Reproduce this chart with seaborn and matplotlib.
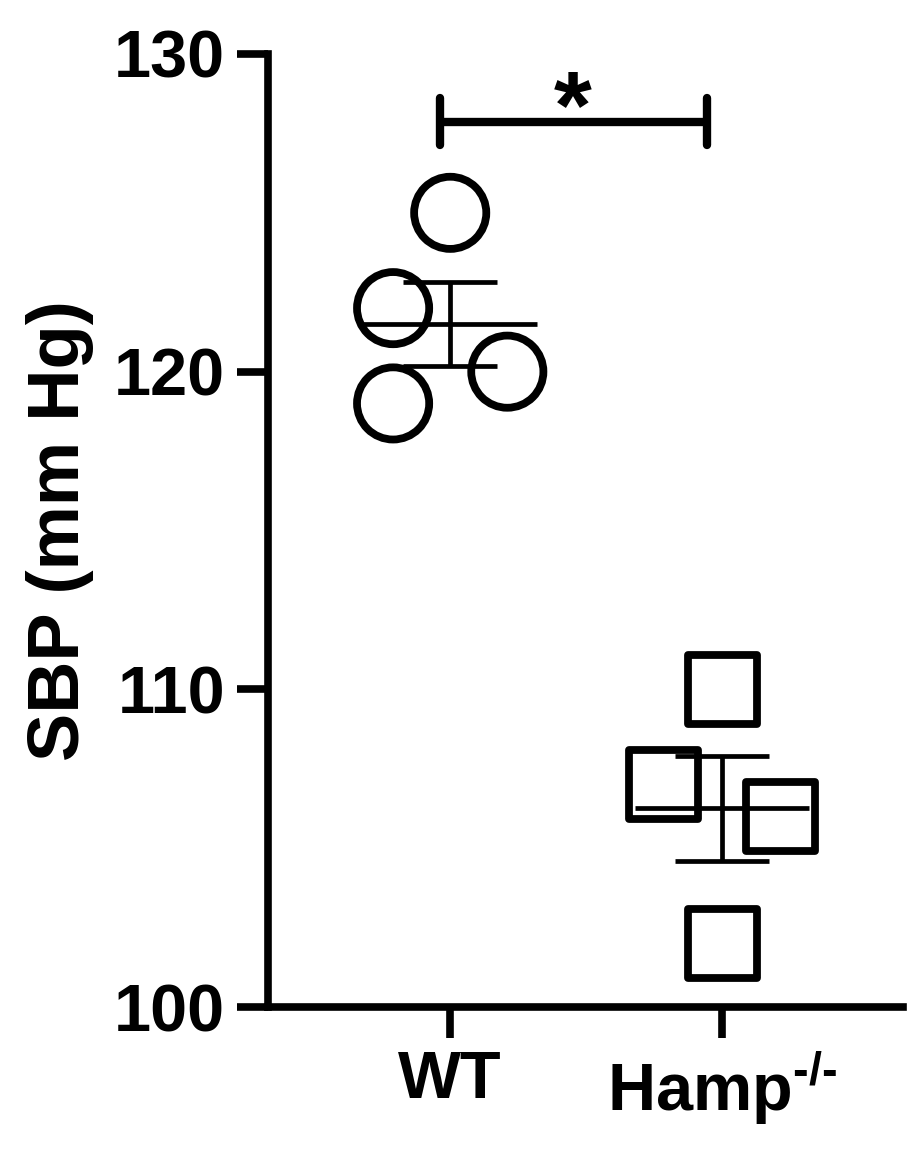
import numpy as np
import pandas as pd
import matplotlib
matplotlib.use("Agg")
import matplotlib.pyplot as plt
import seaborn as sns

# ---- data ----
groups = ["WT", "Hamp"]
tick_labels = ["WT", r"Hamp$^{\text{-/-}}$"]
wt_sbp = [125, 122, 120, 119]
hamp_sbp = [110, 107, 106, 102]
y_ticks = [100, 110, 120, 130]
sig_label = "*"

# ---- layout constants (horizontal spread of points within a column) ----
JIT_WT = [0.0, -0.21, 0.21, -0.21]
JIT_HAMP = [0.0, -0.215, 0.215, 0.0]

sns.set_theme(style="ticks")
plt.rcParams["font.family"] = ["Liberation Sans", "DejaVu Sans"]
plt.rcParams["font.weight"] = "bold"
plt.rcParams["mathtext.fontset"] = "custom"
plt.rcParams["mathtext.bf"] = "Liberation Sans:bold"
plt.rcParams["mathtext.rm"] = "Liberation Sans:bold"
for k in ["text.color", "axes.labelcolor", "xtick.color", "ytick.color", "axes.edgecolor"]:
    plt.rcParams[k] = "black"

W, H = 919, 1170
fig = plt.figure(figsize=(W / 100, H / 100), dpi=100)
ax = fig.add_axes([268 / W, 1 - 1007 / H, 635 / W, 953 / H])

df = pd.DataFrame({
    "group": ["WT"] * len(wt_sbp) + ["Hamp"] * len(hamp_sbp),
    "SBP": wt_sbp + hamp_sbp,
})
df["xpos"] = [0 + j for j in JIT_WT] + [1 + j for j in JIT_HAMP]

marker_map = {"WT": "o", "Hamp": "s"}
size_map = {"WT": 2700, "Hamp": 2450}
for g in groups:
    sub = df[df["group"] == g]
    sns.scatterplot(data=sub, x="xpos", y="SBP", marker=marker_map[g], s=size_map[g],
                    facecolor="none", edgecolor="black", linewidth=5.6, ax=ax, zorder=3,
                    legend=False, clip_on=False)

# mean +/- SEM
for i, g in enumerate(groups):
    vals = np.array(df.loc[df["group"] == g, "SBP"], dtype=float)
    m = vals.mean()
    sem = vals.std(ddof=1) / np.sqrt(len(vals))
    ax.hlines(m, i - 0.32, i + 0.32, color="black", lw=3.4, zorder=4)
    ax.errorbar(i, m, yerr=sem, fmt="none", ecolor="black", elinewidth=3.4,
                capsize=0, zorder=4)
    ax.hlines([m - sem, m + sem], i - 0.172, i + 0.172, color="black", lw=3.4, zorder=4)

# significance bar
x0, x1, yb = -0.037, 0.945, 127.86
ax.plot([x0, x1], [yb, yb], color="black", lw=6, clip_on=False, solid_capstyle="butt")
ax.plot([x0, x0], [127.12, 128.6], color="black", lw=6, clip_on=False, solid_capstyle="round")
ax.plot([x1, x1], [127.12, 128.6], color="black", lw=6, clip_on=False, solid_capstyle="round")
ax.text(0.449, 127.35, sig_label, ha="center", va="baseline", fontsize=70,
        fontweight="bold", color="black")

ax.set_xlim(-0.67, 1.665)
ax.set_ylim(100, 130)
ax.set_yticks(y_ticks)
ax.set_yticklabels([str(t) for t in y_ticks])
ax.set_xticks([0, 1])
ax.set_xticklabels(tick_labels)
ax.set_xlabel("")
ax.set_ylabel("SBP (mm Hg)", fontsize=52, fontweight="bold")
ax.yaxis.set_label_coords(-0.2744, 0.5)

for s in ["top", "right"]:
    ax.spines[s].set_visible(False)
for s in ["left", "bottom"]:
    ax.spines[s].set_linewidth(5.5)
    ax.spines[s].set_color("black")
ax.tick_params(axis="both", direction="out", length=22, width=5.5, color="black",
               labelcolor="black", labelsize=48, pad=9)
for lab in ax.get_xticklabels() + ax.get_yticklabels():
    lab.set_fontweight("bold")
ax.set_facecolor("white")
fig.patch.set_facecolor("white")

fig.savefig("out.png", dpi=100)
